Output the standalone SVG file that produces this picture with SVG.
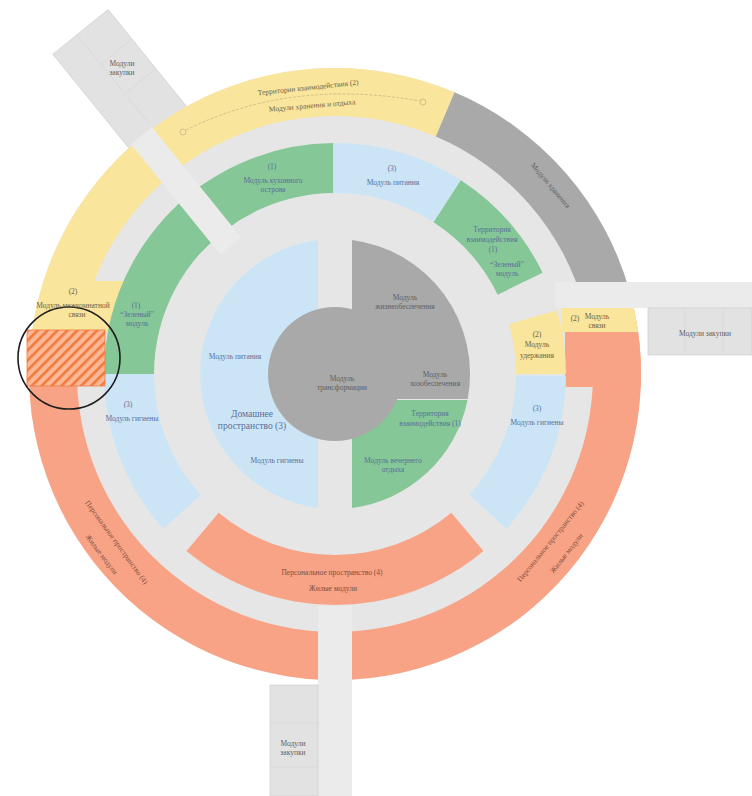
<svg xmlns="http://www.w3.org/2000/svg" width="752" height="796" viewBox="0 0 752 796">
<style>
text{font-family:"Liberation Serif","Times New Roman",serif;font-size:7.5px;text-anchor:middle}
.tb{fill:#5a6f9a}
.tg{fill:#5f5f5f}
.ty{fill:#6e6248}
.ts{fill:#7a4e40}
.big{font-size:9.5px}
.yel{fill:#f9e59b}
.grn{fill:#85c796}
.blu{fill:#cce5f6}
.sal{fill:#f9a386}
.dgr{fill:#a9a9a9}
.lgr{fill:#e6e6e6}
.box{fill:#e2e2e2;stroke:#d2d2d2;stroke-width:0.8}
.strip{fill:#ebebeb}
.div{stroke:#d6d6d6;stroke-width:0.6}
</style>
<defs>
<pattern id="hatch" width="7" height="7" patternUnits="userSpaceOnUse" patternTransform="rotate(45)">
<rect width="7" height="7" fill="#fbb796"/>
<rect width="2.6" height="7" fill="#f07a3c"/>
</pattern>
<clipPath id="outer"><circle cx="335" cy="374" r="306"/></clipPath>
</defs>
<rect width="752" height="796" fill="#ffffff"/>

<g id="module-topleft" transform="translate(335,374) rotate(-129)">
<rect class="box" x="290" y="-18" width="136" height="71"/>
<line class="div" x1="312" y1="13" x2="426" y2="13"/>
<line class="div" x1="350" y1="13" x2="350" y2="53"/>
<line class="div" x1="388" y1="13" x2="388" y2="53"/>
</g>

<circle id="base" class="lgr" cx="335" cy="374" r="306"/>

<g id="outer-ring">
<path id="outer-yellow" class="yel" d="M30.16,347.33 A306,306 0 0 1 454.56,92.33 L435.81,136.51 A258,258 0 0 0 77.98,351.51 Z"/>
<rect class="yel" x="60" y="281" width="65" height="51"/>
<path id="outer-gray" class="dgr" d="M454.56,92.33 A306,306 0 0 1 630.57,294.80 L584.21,307.22 A258,258 0 0 0 435.81,136.51 Z"/>
<path id="outer-salmon" class="sal" d="M634.31,310.38 A306,306 0 1 1 30.16,347.33 L77.98,351.51 A258,258 0 1 0 587.36,320.36 Z"/>
<g clip-path="url(#outer)">
<rect class="yel" x="562" y="308" width="82" height="24"/>
<rect class="sal" x="565" y="332" width="80" height="55"/>
</g>
</g>

<g id="middle-ring">
<path id="green-left" class="grn" d="M104,374 A231,231 0 0 1 205.83,182.49 L233.79,223.94 A181,181 0 0 0 154,374 Z"/>
<path id="green-top" class="grn" d="M163.33,219.43 A231,231 0 0 1 332.98,143.01 L333.42,193 A181,181 0 0 0 200.49,252.89 Z"/>
<path id="blue-top" class="blu" d="M332.98,143.01 A231,231 0 0 1 460.81,180.27 L433.58,222.2 A181,181 0 0 0 333.42,193 Z"/>
<path id="green-right" class="grn" d="M460.81,180.27 A231,231 0 0 1 542.62,272.74 L497.68,294.65 A181,181 0 0 0 433.58,222.2 Z"/>
<path id="yellow-hold" class="yel" d="M557.05,310.33 A231,231 0 0 1 566,374 L516,374 A181,181 0 0 0 508.99,324.11 Z"/>
<path id="blue-right" class="blu" d="M565.99,376.02 A231,231 0 0 1 506.67,528.57 L469.51,495.11 A181,181 0 0 0 515.99,375.58 Z"/>
<path id="salmon-bottom" class="sal" d="M483.48,550.96 A231,231 0 0 1 186.52,550.96 L218.66,512.65 A181,181 0 0 0 451.34,512.65 Z"/>
<path id="blue-left" class="blu" d="M163.33,528.57 A231,231 0 0 1 104,374 L154,374 A181,181 0 0 0 200.49,495.11 Z"/>
</g>

<g id="corridors">
<rect id="corridor-topleft" class="strip" x="165" y="-14" width="142" height="27" transform="translate(335,374) rotate(-129)"/>
<rect id="corridor-right" class="strip" x="555" y="282" width="197" height="26"/>
<rect id="corridor-bottom" class="strip" x="318" y="606" width="34" height="190"/>
</g>

<g id="hatch-zone">
<rect x="27" y="330" width="78" height="56" fill="url(#hatch)" stroke="#f07a3c" stroke-width="0.8"/>
</g>

<g id="inner-core">
<path id="inner-blue" class="blu" d="M318,240.1 A135,135 0 0 0 318,507.9 Z"/>
<path id="inner-gray" class="dgr" d="M352,240.1 A135,135 0 0 1 467.7,399 L352,399 Z"/>
<path id="inner-green" class="grn" d="M352,400 L467.5,400 A135,135 0 0 1 352,507.9 Z"/>
<circle id="core" class="dgr" cx="335" cy="374" r="67"/>
</g>

<g id="modules">
<rect class="box" x="648" y="308" width="104" height="47"/>
<line class="div" x1="685" y1="308" x2="685" y2="355"/>
<line class="div" x1="723" y1="308" x2="723" y2="355"/>
<rect class="box" x="270" y="685" width="48" height="111"/>
<line class="div" x1="270" y1="723" x2="318" y2="723"/>
<line class="div" x1="270" y1="767" x2="318" y2="767"/>
</g>

<g id="arc-line" fill="none" stroke="#b9a87a" stroke-width="0.6">
<path d="M186,130 Q290,78 420,101" stroke-dasharray="3 1.5"/>
<circle cx="183" cy="132" r="3"/>
<circle cx="423" cy="102" r="3"/>
</g>

<circle id="focus" cx="69" cy="358" r="51" fill="none" stroke="#1e1e1e" stroke-width="1.6"/>

<g id="labels">
<text class="tg" x="122" y="66">Модули</text>
<text class="tg" x="122" y="75">закупки</text>
<text class="ty" x="308" y="90" font-size="8.5" transform="rotate(-6 308 87)">Территории взаимодействия (2)</text>
<text class="ty" x="312" y="108" font-size="6.5" transform="rotate(-5 312 105)">Модули хранения и отдыха</text>
<text class="tb" x="272" y="169">(1)</text>
<text class="tb" x="273" y="183">Модуль кухонного</text>
<text class="tb" x="273" y="192">острова</text>
<text class="tb" x="392" y="171">(3)</text>
<text class="tb" x="393" y="185">Модуль питания</text>
<text class="tb" x="492" y="232">Территория</text>
<text class="tb" x="492" y="242">взаимодействия</text>
<text class="tb" x="493" y="252">(1)</text>
<text class="tb" x="507" y="267">“Зеленый”</text>
<text class="tb" x="507" y="276">модуль</text>
<text class="tg" x="551" y="188" transform="rotate(50 551 185)">Модули хранения</text>
<text class="ty" x="73" y="294">(2)</text>
<text class="ty" x="73" y="308">Модуль межкомнатной</text>
<text class="ty" x="77" y="317">связи</text>
<text class="tb" x="136" y="308">(1)</text>
<text class="tb" x="137" y="317">“Зеленый”</text>
<text class="tb" x="137" y="326">модуль</text>
<text class="tb" x="128" y="407">(3)</text>
<text class="tb" x="132" y="421">Модуль гигиены</text>
<text class="tb" x="235" y="359">Модуль питания</text>
<text class="tb big" x="252" y="417">Домашнее</text>
<text class="tb big" x="252" y="429">пространство (3)</text>
<text class="tb" x="277" y="463">Модуль гигиены</text>
<text class="tg" x="405" y="300">Модуль</text>
<text class="tg" x="405" y="309">жизнеобеспечения</text>
<text class="tg" x="342" y="381">Модуль</text>
<text class="tg" x="342" y="390">трансформации</text>
<text class="tg" x="435" y="377">Модуль</text>
<text class="tg" x="435" y="386">хозобеспечения</text>
<text class="tb" x="430" y="416">Территория</text>
<text class="tb" x="430" y="426">взаимодействия (1)</text>
<text class="tb" x="393" y="463">Модуль вечернего</text>
<text class="tb" x="393" y="472">отдыха</text>
<text class="ty" x="575" y="321">(2)</text>
<text class="ty" x="597" y="319">Модуль</text>
<text class="ty" x="597" y="328">связи</text>
<text class="ty" x="537" y="337">(2)</text>
<text class="ty" x="537" y="347">Модуль</text>
<text class="ty" x="537" y="358">удержания</text>
<text class="tb" x="537" y="411">(3)</text>
<text class="tb" x="537" y="425">Модуль гигиены</text>
<text class="tg" x="705" y="336">Модули закупки</text>
<text class="ts" x="332" y="575" font-size="8.5">Персональное пространство (4)</text>
<text class="ts" x="333" y="591" font-size="8">Жилые модули</text>
<text class="ts" x="117" y="545" font-size="8.5" transform="rotate(54 117 542)">Персональное пространство (4)</text>
<text class="ts" x="102" y="557" font-size="7" transform="rotate(53 102 554)">Жилые модули</text>
<text class="ts" x="550" y="544" font-size="8.5" transform="rotate(-51 550 541)">Персональное пространство (4)</text>
<text class="ts" x="566" y="556" font-size="7" transform="rotate(-52 566 553)">Жилые модули</text>
<text class="tg" x="293" y="746">Модули</text>
<text class="tg" x="293" y="755">закупки</text>
</g>
</svg>
